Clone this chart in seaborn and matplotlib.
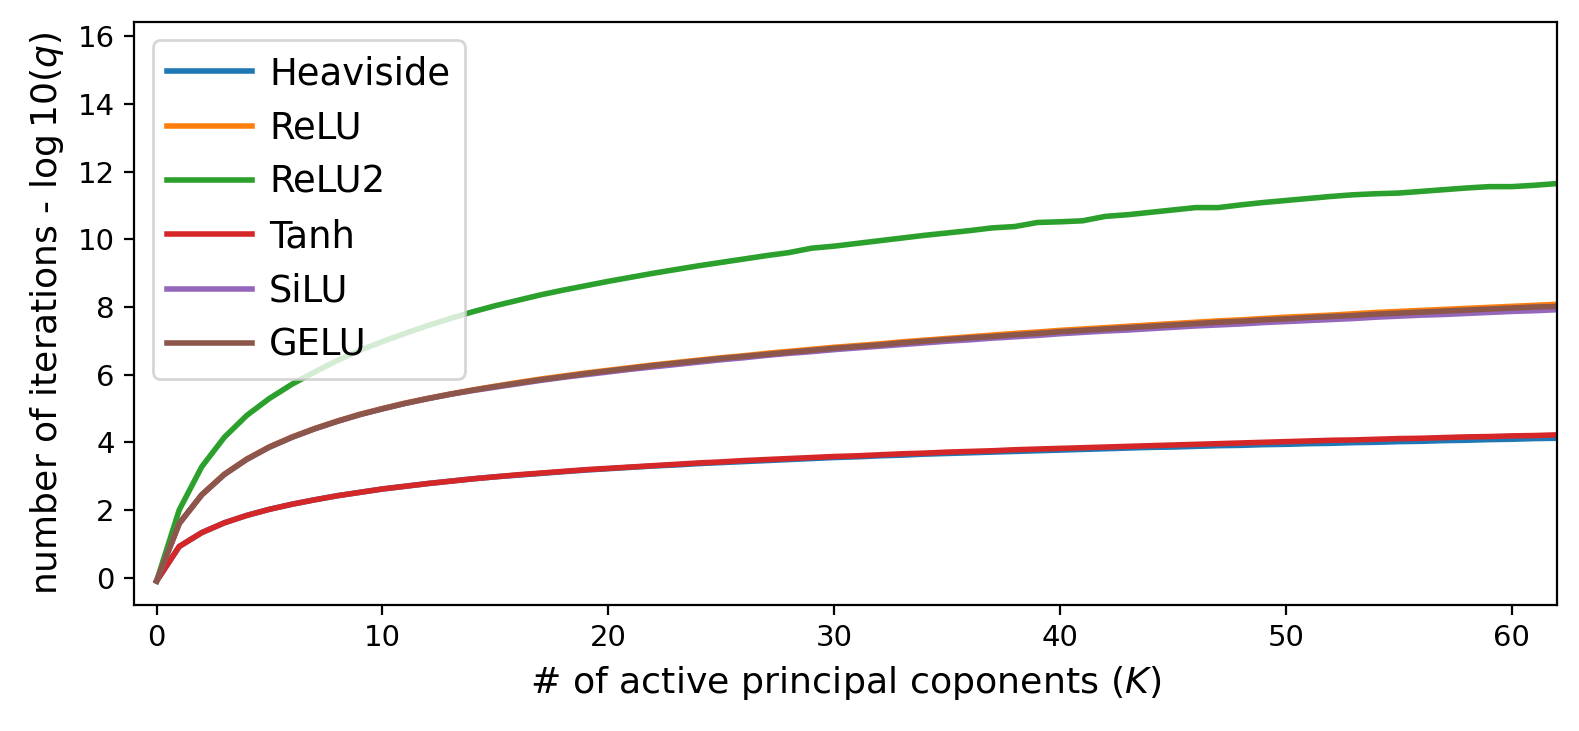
import seaborn as sns
import numpy as np
import matplotlib.pyplot as plt
import pandas as pd

## number of active principal components
K = list(range(0, 63))

## values, log10(q)
heaviside = [-0.1, 0.92, 1.33, 1.62, 1.84, 2.02, 2.17, 2.30, 2.42, 2.52,
             2.62, 2.70, 2.78, 2.85, 2.92, 2.98, 3.03, 3.08, 3.13, 3.18,
             3.22, 3.26, 3.30, 3.33, 3.37, 3.40, 3.43, 3.46, 3.49, 3.52,
             3.55, 3.57, 3.60, 3.62, 3.65, 3.67, 3.69, 3.71, 3.73, 3.75,
             3.77, 3.79, 3.81, 3.83, 3.85, 3.86, 3.88, 3.90, 3.91, 3.93,
             3.94, 3.96, 3.97, 3.99, 4.00, 4.02, 4.03, 4.05, 4.06, 4.08,
             4.09, 4.11, 4.12]
relu = [-0.1, 1.60, 2.45, 3.06, 3.51, 3.87, 4.16, 4.41, 4.63, 4.83,
        5.00, 5.16, 5.30, 5.43, 5.55, 5.66, 5.77, 5.87, 5.96, 6.05,
        6.13, 6.21, 6.29, 6.36, 6.43, 6.50, 6.56, 6.63, 6.69, 6.75,
        6.81, 6.86, 6.91, 6.97, 7.02, 7.07, 7.12, 7.17, 7.22, 7.26,
        7.31, 7.35, 7.39, 7.43, 7.47, 7.51, 7.55, 7.59, 7.62, 7.66,
        7.70, 7.73, 7.76, 7.80, 7.84, 7.87, 7.90, 7.93, 7.96, 7.99,
        8.02, 8.05, 8.08]
relu2 = [-0.1, 2.00, 3.28, 4.15, 4.80, 5.30, 5.72, 6.08, 6.42, 6.72,
         6.98, 7.22, 7.45, 7.66, 7.86, 8.04, 8.20, 8.36, 8.50, 8.63,
         8.76, 8.88, 9.00, 9.11, 9.22, 9.32, 9.42, 9.52, 9.61, 9.74,
         9.80, 9.88, 9.96, 10.04, 10.12, 10.19, 10.26, 10.34, 10.38, 10.50,
         10.52, 10.55, 10.68, 10.73, 10.80, 10.87, 10.94, 10.94, 11.02, 11.09,
         11.15, 11.21, 11.27, 11.32, 11.35, 11.37, 11.42, 11.47, 11.52, 11.56,
         11.56, 11.60, 11.65]
tanh = [-0.1, 0.92, 1.33, 1.62, 1.84, 2.02, 2.17, 2.30, 2.42, 2.52,
        2.62, 2.70, 2.78, 2.85, 2.92, 2.98, 3.04, 3.09, 3.14, 3.19,
        3.23, 3.27, 3.31, 3.35, 3.39, 3.42, 3.46, 3.49, 3.52, 3.55,
        3.58, 3.60, 3.63, 3.66, 3.68, 3.71, 3.73, 3.75, 3.78, 3.80,
        3.82, 3.84, 3.86, 3.88, 3.90, 3.92, 3.94, 3.96, 3.98, 4.00,
        4.02, 4.04, 4.06, 4.07, 4.09, 4.11, 4.12, 4.14, 4.16, 4.17,
        4.19, 4.20, 4.22]
silu = [-0.1, 1.60, 2.45, 3.05, 3.50, 3.86, 4.15, 4.40, 4.62, 4.82,
        4.99, 5.15, 5.29, 5.42, 5.53, 5.63, 5.73, 5.83, 5.92, 6.00,
        6.08, 6.16, 6.23, 6.30, 6.37, 6.44, 6.50, 6.57, 6.63, 6.68,
        6.74, 6.79, 6.84, 6.89, 6.94, 6.99, 7.03, 7.08, 7.12, 7.16,
        7.21, 7.25, 7.29, 7.32, 7.36, 7.40, 7.44, 7.47, 7.50, 7.54,
        7.57, 7.60, 7.63, 7.66, 7.70, 7.73, 7.76, 7.78, 7.81, 7.84,
        7.87, 7.89, 7.92]
gelu = [-0.1, 1.60, 2.45, 3.05, 3.50, 3.86, 4.15, 4.40, 4.62, 4.82,
        4.99, 5.15, 5.29, 5.42, 5.54, 5.65, 5.75, 5.85, 5.94, 6.03,
        6.11, 6.19, 6.27, 6.34, 6.41, 6.48, 6.54, 6.60, 6.66, 6.72,
        6.78, 6.83, 6.88, 6.94, 6.99, 7.04, 7.09, 7.13, 7.18, 7.22,
        7.27, 7.31, 7.35, 7.39, 7.43, 7.47, 7.51, 7.55, 7.58, 7.62,
        7.65, 7.69, 7.72, 7.75, 7.79, 7.82, 7.85, 7.88, 7.91, 7.94,
        7.97, 8.00, 8.02]

names = ["Heaviside", "ReLU", "ReLU2", "Tanh", "SiLU", "GELU"]
series = [heaviside, relu, relu2, tanh, silu, gelu]

df = pd.concat([pd.DataFrame({"K": K, "log_q": s, "activation": n})
                for n, s in zip(names, series)], ignore_index=True)

fig = plt.figure(figsize=(7.895, 3.655), dpi=200)
ax = fig.add_axes([0.0849, 0.1724, 0.9011, 0.7976])

sns.lineplot(data=df, x="K", y="log_q", hue="activation", hue_order=names,
             palette="tab10", linewidth=2, ax=ax)

ax.set_xlim(-1, 62)
ax.set_ylim(-0.81, 16.43)
ax.set_yticks(range(0, 17, 2))
ax.tick_params(labelsize=10.5)
ax.set_xlabel(r"# of active principal coponents ($K$)", fontsize=13.1)
ax.set_ylabel(r"number of iterations - $\log 10(q)$", fontsize=13)
ax.legend(loc="upper left", fontsize=13.3, handlelength=2.3,
          handletextpad=0.45, labelspacing=0.47)

plt.savefig("out.png", dpi=200)
